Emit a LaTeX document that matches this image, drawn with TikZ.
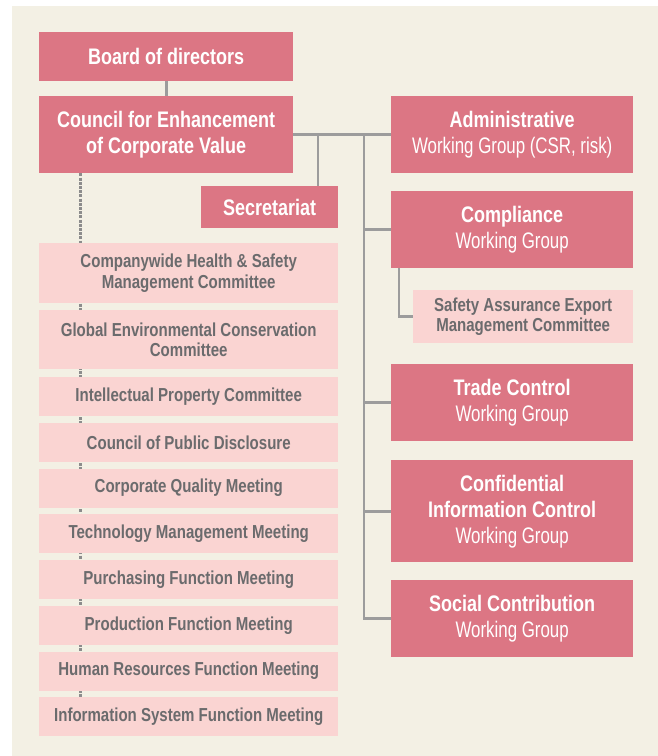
\documentclass[tikz,border=0pt]{standalone}
\usepackage{fontspec}
\setmainfont{Liberation Sans}[FakeStretch=0.8]
\newfontfamily\wgfont{Liberation Sans}[FakeStretch=0.75]
\newcommand\wgtext[1]{{\wgfont\mdseries #1}}
\definecolor{bgbeige}{HTML}{F3F0E4}
\definecolor{darkpink}{HTML}{DC7684}
\definecolor{lightpink}{HTML}{FAD4D2}
\definecolor{txtgray}{HTML}{6B6B6D}
\definecolor{linegray}{HTML}{9C9C9C}
\pgfdeclarelayer{back}
\pgfdeclarelayer{bg}
\pgfsetlayers{back,bg,main}
\begin{document}
\begin{tikzpicture}[x=1pt,y=-1pt,
  mainbox/.style={fill=darkpink, text=white, inner sep=0pt, anchor=north west, align=center,
    font=\bfseries\fontsize{22.5}{26}\selectfont},
  combox/.style={fill=lightpink, text=txtgray, inner sep=0pt, anchor=north west, align=center,
    minimum width=299pt, font=\bfseries\fontsize{18.8}{20.5}\selectfont},
  conn/.style={draw=linegray, line width=2.6pt},
  dashconn/.style={draw=linegray!90!black, line width=2.6pt, dash pattern=on 3pt off 1.2pt}]
\useasboundingbox (0,0) rectangle (658,756);
\begin{pgfonlayer}{back}
\fill[bgbeige] (12,6) rectangle (658,756);
\end{pgfonlayer}

\node[mainbox, minimum width=254pt, minimum height=49pt] (board) at (39,32) {Board of directors};
\node[mainbox, minimum width=254pt, minimum height=77pt] (council) at (39,96) {Council for Enhancement\\of Corporate Value};
\node[mainbox, minimum width=137pt, minimum height=42pt] (secr) at (201,186) {Secretariat};

\node[mainbox, minimum width=242pt, minimum height=77pt] (admin) at (391,96) {Administrative\\\wgtext{Working Group (CSR, risk)}};
\node[mainbox, minimum width=242pt, minimum height=77pt] (comp) at (391,191) {Compliance\\\wgtext{Working Group}};
\node[combox, minimum width=220pt, minimum height=53pt] (safety) at (413,290) {Safety Assurance Export\\Management Committee};
\node[mainbox, minimum width=242pt, minimum height=77pt] (trade) at (391,364) {Trade Control\\\wgtext{Working Group}};
\node[mainbox, minimum width=242pt, minimum height=102pt] (conf) at (391,460) {Confidential\\Information Control\\\wgtext{Working Group}};
\node[mainbox, minimum width=242pt, minimum height=77pt] (social) at (391,580) {Social Contribution\\\wgtext{Working Group}};

\node[combox, minimum height=60pt] (c1) at (39,243) {Companywide Health \& Safety\\Management Committee};
\node[combox, minimum height=59pt] (c2) at (39,310) {Global Environmental Conservation\\Committee};
\node[combox, minimum height=39pt] (c3) at (39,377) {Intellectual Property Committee};
\node[combox, minimum height=39pt] (c4) at (39,422.7) {Council of Public Disclosure};
\node[combox, minimum height=39pt] (c5) at (39,468.4) {Corporate Quality Meeting};
\node[combox, minimum height=39pt] (c6) at (39,514) {Technology Management Meeting};
\node[combox, minimum height=39pt] (c7) at (39,560) {Purchasing Function Meeting};
\node[combox, minimum height=39pt] (c8) at (39,605.6) {Production Function Meeting};
\node[combox, minimum height=39pt] (c9) at (39,651.3) {Human Resources Function Meeting};
\node[combox, minimum height=39pt] (c10) at (39,697) {Information System Function Meeting};

\coordinate (dx) at (80.5,0);
\coordinate (j1) at (318,134.5);
\coordinate (j2) at (364,134.5);
\coordinate (sx) at (399,0);

\begin{pgfonlayer}{bg}
  \draw[conn] (board.south) -- (council.north);
  \draw[conn] (council.east) -- (admin.west);
  \draw[conn] (j1) -- (j1 |- secr.north);
  \draw[conn] (j2) |- (social.west);
  \draw[conn] (j2 |- comp.west) -- (comp.west);
  \draw[conn] (j2 |- trade.west) -- (trade.west);
  \draw[conn] (j2 |- conf.west) -- (conf.west);
  \draw[conn] (comp.south -| sx) |- (safety.west);
  \draw[dashconn] (council.south -| dx) -- (c10.north -| dx);
\end{pgfonlayer}
\end{tikzpicture}
\end{document}
